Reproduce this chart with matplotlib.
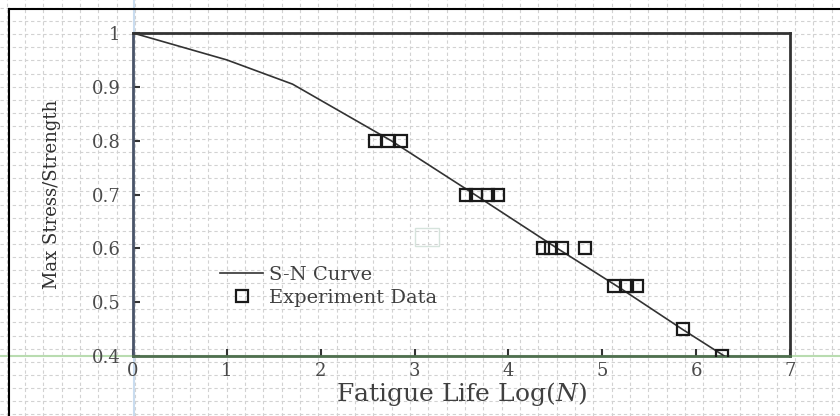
import numpy as np
import matplotlib
matplotlib.use('Agg')
import matplotlib.pyplot as plt

plt.rcParams['mathtext.fontset'] = 'dejavuserif'

# S-N 曲线
curve_logn = [0.0, 1.0, 1.7, 2.0, 2.75, 3.64, 4.52, 5.2, 5.85, 6.3]
curve_ratio = [1.0, 0.95, 0.905, 0.875, 0.8, 0.7, 0.6, 0.525, 0.45, 0.4]

# 试验数据
exp_logn = [2.58, 2.72, 2.86,
            3.55, 3.65, 3.78, 3.89,
            4.37, 4.45, 4.57, 4.82,
            5.13, 5.26, 5.37,
            5.86,
            6.28]
exp_ratio = [0.8, 0.8, 0.8,
             0.7, 0.7, 0.7, 0.7,
             0.6, 0.6, 0.6, 0.6,
             0.53, 0.53, 0.53,
             0.45,
             0.4]

x_ticks = [0, 1, 2, 3, 4, 5, 6, 7]
y_ticks = [0.4, 0.5, 0.6, 0.7, 0.8, 0.9, 1.0]
y_tick_labels = ['0.4', '0.5', '0.6', '0.7', '0.8', '0.9', '1']

W, H = 840, 416
fig = plt.figure(figsize=(W / 100, H / 100), dpi=100)
fig.patch.set_facecolor('white')

# 背景网格 (像素坐标)
bg = fig.add_axes([0, 0, 1, 1])
bg.set_xlim(0, W)
bg.set_ylim(H, 0)
bg.axis('off')
for gx in np.arange(135 - 18.33 * 7, W, 18.33):
    bg.axvline(gx, color='#d2d2d2', lw=0.8, ls=(0, (3, 2.5)))
for gy in np.arange(8, H, 13.1):
    bg.axhline(gy, color='#d2d2d2', lw=0.8, ls=(0, (3, 2.5)))
bg.axvline(134, color='#c9dcef', lw=1.5)
bg.axhline(356, color='#b9dcb0', lw=1.5)
bg.plot([9, 9], [9, H], color='black', lw=1.5)
bg.plot([9, W], [9, 9], color='black', lw=1.5)
bg.add_patch(plt.Rectangle((415, 228), 24, 18, fill=False, ec='#d6e3dc', lw=1))

ax = fig.add_axes([133 / W, 1 - 356 / H, (790 - 133) / W, (356 - 33) / H])
ax.patch.set_alpha(0)

ax.plot(curve_logn, curve_ratio, color='#333333', lw=1.2, label='S-N Curve', zorder=3)
ax.plot(exp_logn, exp_ratio, ls='none', marker='s', ms=8.5, mfc='none', mec='#1a1a1a',
        mew=1.6, label='Experiment Data', zorder=4)

ax.set_xlim(0, 7)
ax.set_ylim(0.4, 1.0)
ax.set_xticks(x_ticks)
ax.set_yticks(y_ticks)
ax.set_yticklabels(y_tick_labels)

serif = ['DejaVu Serif']
for lab in ax.get_xticklabels() + ax.get_yticklabels():
    lab.set_family(serif)
    lab.set_fontsize(13)
    lab.set_color('#4a4a4a')
ax.tick_params(axis='both', direction='in', length=5, width=1.5, color='#333333')
ax.tick_params(axis='y', pad=9)
ax.tick_params(axis='x', pad=4)

ax.spines['left'].set_color('#4a5468')
ax.spines['bottom'].set_color('#4f6f4f')
ax.spines['top'].set_color('#333333')
ax.spines['right'].set_color('#333333')
for s in ax.spines.values():
    s.set_linewidth(2)

ax.set_xlabel('Fatigue Life Log($\\mathit{N}$)', family=serif, fontsize=18, color='#404040', labelpad=0)
ax.set_ylabel('Max Stress/Strength', family=serif, fontsize=13, color='#303030', labelpad=22)

ax.legend(loc='center left', bbox_to_anchor=(0.118, 0.215), frameon=False,
          prop={'family': serif, 'size': 14}, handlelength=2.2, handletextpad=0.3,
          labelspacing=0.25, borderpad=0, labelcolor='#404040')

fig.savefig('out.png', dpi=100)
